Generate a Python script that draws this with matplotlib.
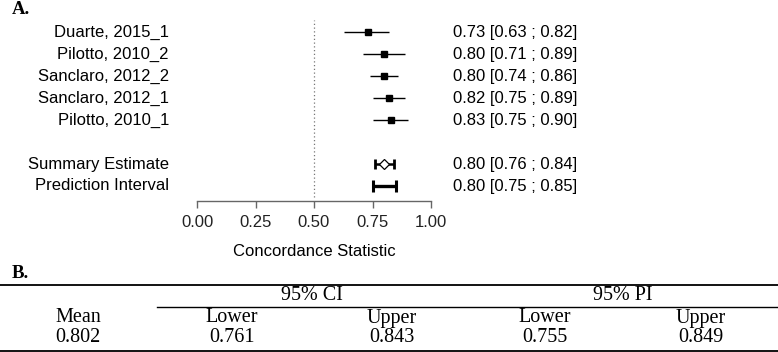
import matplotlib

matplotlib.use("Agg")
import matplotlib.pyplot as plt
from matplotlib.lines import Line2D

W, H = 778, 352

# forest plot data
study_labels = ["Duarte, 2015_1", "Pilotto, 2010_2", "Sanclaro, 2012_2",
                "Sanclaro, 2012_1", "Pilotto, 2010_1"]
study_est = [0.73, 0.80, 0.80, 0.82, 0.83]
study_lo = [0.63, 0.71, 0.74, 0.75, 0.75]
study_hi = [0.82, 0.89, 0.86, 0.89, 0.90]
summary_est, summary_lo, summary_hi = 0.80, 0.76, 0.84
pred_est, pred_lo, pred_hi = 0.80, 0.75, 0.85
x_ticks = [0.0, 0.25, 0.5, 0.75, 1.0]

# table data
tbl_groups = ["95% CI", "95% PI"]
tbl_cols = ["Mean", "Lower", "Upper", "Lower", "Upper"]
tbl_vals = ["0.802", "0.761", "0.843", "0.755", "0.849"]

SANS = "Liberation Sans"
SERIF = "Liberation Serif"


def fx(px):
    return px / W


def fy(py):
    return 1 - py / H


fig = plt.figure(figsize=(W / 100, H / 100), dpi=100)

# axes: x 0..1 maps to pixels 197..431, rows spaced 22 px from y=32
left, right, top, bottom = 197, 431, 20, 201
ax = fig.add_axes([fx(left), fy(bottom), fx(right - left), (bottom - top) / H])
row0, step = 32, 22
ax.set_xlim(0, 1)
ax.set_ylim(1 + (bottom - row0) / step, 1 + (top - row0) / step)

rows = list(range(1, len(study_labels) + 1))
for r, lab, e, lo, hi in zip(rows, study_labels, study_est, study_lo, study_hi):
    ax.plot([lo, hi], [r, r], color="black", lw=1.0, solid_capstyle="butt")
    ax.plot(e, r, marker="s", ms=4.2, color="black", mec="black")
    ax.text(-0.12, r, lab, ha="right", va="center", fontsize=12, family=SANS,
            clip_on=False)
    ax.text(1.094, r, f"{e:.2f} [{lo:.2f} ; {hi:.2f}]", ha="left", va="center",
            fontsize=12, family=SANS, clip_on=False)

r_sum = len(study_labels) + 2
ax.errorbar(summary_est, r_sum, xerr=[[summary_est - summary_lo], [summary_hi - summary_est]],
            fmt="none", ecolor="black", elinewidth=1.8, capsize=3.5, capthick=2)
ax.plot(summary_est, r_sum, marker="D", ms=5, mfc="white", mec="black", mew=0.9)
ax.text(-0.12, r_sum, "Summary Estimate", ha="right", va="center", fontsize=12,
        family=SANS, clip_on=False)
ax.text(1.094, r_sum, f"{summary_est:.2f} [{summary_lo:.2f} ; {summary_hi:.2f}]",
        ha="left", va="center", fontsize=12, family=SANS, clip_on=False)

r_pred = r_sum + 1
ax.errorbar(pred_est, r_pred, xerr=[[pred_est - pred_lo], [pred_hi - pred_est]],
            fmt="none", ecolor="black", elinewidth=2.4, capsize=4.5, capthick=2.2)
ax.text(-0.12, r_pred, "Prediction Interval", ha="right", va="center", fontsize=12,
        family=SANS, clip_on=False)
ax.text(1.094, r_pred, f"{pred_est:.2f} [{pred_lo:.2f} ; {pred_hi:.2f}]",
        ha="left", va="center", fontsize=12, family=SANS, clip_on=False)

ax.axvline(0.5, ymin=0.02, ymax=1, color="#777777", lw=0.9, ls=(0, (1, 2)))

for s in ["top", "left", "right"]:
    ax.spines[s].set_visible(False)
ax.spines["bottom"].set_color("#666666")
ax.spines["bottom"].set_linewidth(1.0)
ax.spines["bottom"].set_bounds(0, 1)
ax.set_yticks([])
ax.set_xticks(x_ticks)
ax.set_xticklabels([f"{t:.2f}" for t in x_ticks], family=SANS, fontsize=12,
                   color="#222222")
ax.tick_params(axis="x", direction="out", length=5, width=1.0, color="#666666", pad=5)
ax.patch.set_visible(False)

fig.text(fx(314), fy(252), "Concordance Statistic", ha="center", va="center",
         fontsize=12, family=SANS)

# panel letters
fig.text(fx(12), fy(10), "A.", ha="left", va="center", fontsize=13.5,
         family=SERIF, weight="bold")
fig.text(fx(12), fy(273), "B.", ha="left", va="center", fontsize=13.5,
         family=SERIF, weight="bold")

# table
for x0, x1, yl, lw in [(0, W, 284.5, 1.3), (157, W, 307, 1.0), (0, W, 350.5, 1.3)]:
    fig.add_artist(Line2D([fx(x0), fx(x1)], [fy(yl), fy(yl)], color="black", lw=lw))

col_x = [78, 232, 392, 545, 701]
group_x = [312, 623]
for gx, g in zip(group_x, tbl_groups):
    fig.text(fx(gx), fy(296), g, ha="center", va="center", fontsize=14.5, family=SERIF)
for cx, c, v in zip(col_x, tbl_cols, tbl_vals):
    fig.text(fx(cx), fy(318), c, ha="center", va="center", fontsize=14.5, family=SERIF)
    fig.text(fx(cx), fy(338), v, ha="center", va="center", fontsize=14.5, family=SERIF)

fig.savefig("out.png", dpi=100)
